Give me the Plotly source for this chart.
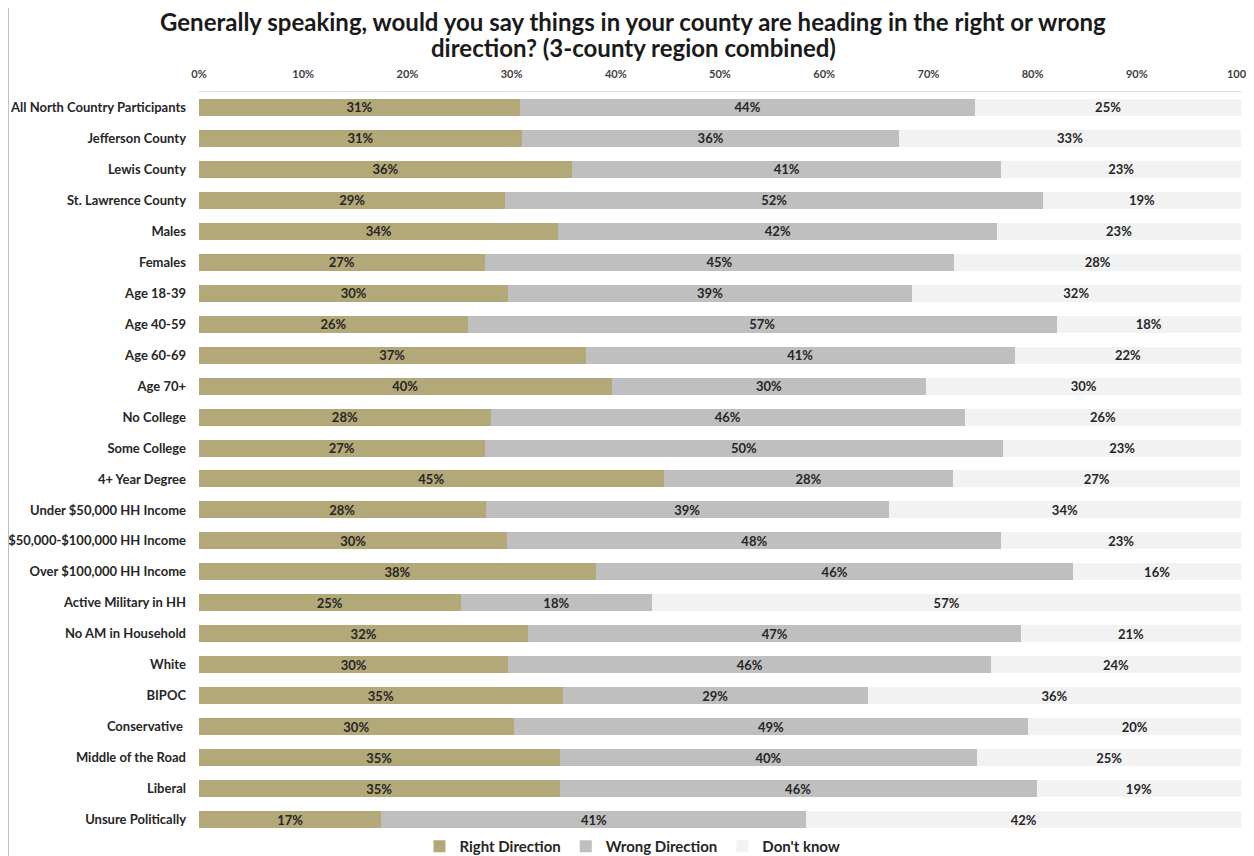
import plotly.graph_objects as go

categories = [
    "All North Country Participants", "Jefferson County", "Lewis County", "St. Lawrence County",
    "Males", "Females", "Age 18-39", "Age 40-59", "Age 60-69", "Age 70+",
    "No College", "Some College", "4+ Year Degree", "Under $50,000 HH Income",
    "$50,000-$100,000 HH Income", "Over $100,000 HH Income", "Active Military in HH",
    "No AM in Household", "White", "BIPOC", "Conservative ", "Middle of the Road",
    "Liberal", "Unsure Politically",
]

right_direction = [30.8, 31.0, 35.8, 29.4, 34.5, 27.4, 29.7, 25.8, 37.1, 39.6, 28.0, 27.4,
                   44.6, 27.5, 29.6, 38.1, 25.1, 31.6, 29.7, 34.9, 30.2, 34.6, 34.6, 17.5]
wrong_direction = [43.7, 36.2, 41.2, 51.6, 42.1, 45.1, 38.7, 56.5, 41.2, 30.2, 45.5, 49.8,
                   27.8, 38.7, 47.4, 45.8, 18.4, 47.3, 46.3, 29.3, 49.4, 40.1, 45.8, 40.8]
dont_know = [25.5, 32.8, 23.0, 19.0, 23.4, 27.5, 31.6, 17.7, 21.7, 30.2, 26.5, 22.8,
             27.5, 33.8, 23.0, 16.1, 56.5, 21.1, 24.0, 35.8, 20.4, 25.3, 19.6, 41.7]

right_labels = ["31%", "31%", "36%", "29%", "34%", "27%", "30%", "26%", "37%", "40%", "28%", "27%",
                "45%", "28%", "30%", "38%", "25%", "32%", "30%", "35%", "30%", "35%", "35%", "17%"]
wrong_labels = ["44%", "36%", "41%", "52%", "42%", "45%", "39%", "57%", "41%", "30%", "46%", "50%",
                "28%", "39%", "48%", "46%", "18%", "47%", "46%", "29%", "49%", "40%", "46%", "41%"]
dk_labels = ["25%", "33%", "23%", "19%", "23%", "28%", "32%", "18%", "22%", "30%", "26%", "23%",
             "27%", "34%", "23%", "16%", "57%", "21%", "24%", "36%", "20%", "25%", "19%", "42%"]

title_lines = [
    "Generally speaking, would you say things in your county are heading in the right or wrong",
    "direction? (3-county region combined)",
]

series = [
    ("Right Direction", right_direction, right_labels, "#B3A878"),
    ("Wrong Direction", wrong_direction, wrong_labels, "#BFBFBF"),
    ("Don't know", dont_know, dk_labels, "#F2F2F2"),
]

FONT = "Lato"
W, H = 1246, 900
L, R, T, B = 191, 13, 84, 73
PW = W - L - R
PH = H - T - B

fig = go.Figure()
for name, vals, labels, color in series:
    fig.add_trace(go.Bar(
        name=name, y=categories, x=vals, orientation="h",
        marker=dict(color=color, line=dict(width=0)),
        text=labels, textposition="inside", insidetextanchor="middle",
        textangle=0, constraintext="none",
        textfont=dict(family=FONT, size=13, color="#262626", weight="bold"),
        hoverinfo="skip",
    ))

fig.update_layout(
    barmode="stack",
    width=W, height=H,
    margin=dict(l=L, r=R, t=T, b=B),
    paper_bgcolor="white", plot_bgcolor="white",
    bargap=0.45,
    xaxis=dict(
        side="top", range=[0, 100], dtick=10, ticksuffix="%",
        showgrid=False, zeroline=False, showline=True, linecolor="#D9D9D9", linewidth=1,
        ticks="", ticklabelstandoff=9, ticklabeloverflow="allow", automargin=False,
        tickfont=dict(family=FONT, size=11, color="#404040", weight="bold"),
        fixedrange=True,
    ),
    yaxis=dict(
        autorange="reversed", showgrid=False, showline=False, ticks="",
        ticklabelstandoff=12, automargin=False,
        tickfont=dict(family=FONT, size=13, color="#262626", weight="bold"),
        fixedrange=True,
    ),
    legend=dict(
        orientation="h", x=0.416, xanchor="center", y=-0.0155, yanchor="middle",
        font=dict(family=FONT, size=15, color="#262626", weight="bold"),
        traceorder="normal", itemwidth=30,
    ),
    showlegend=True,
)

for i, (line, fy) in enumerate(zip(title_lines, [14, 40])):
    fig.add_annotation(
        text=line, xref="paper", yref="paper",
        x=(625 - L) / PW, y=1 + (T - fy) / PH,
        xanchor="center", yanchor="middle", showarrow=False,
        font=dict(family=FONT, size=24, color="#1a1a1a", weight="bold"),
    )

fig.add_shape(type="line", xref="paper", yref="paper",
              x0=(0.5 - L) / PW, x1=(0.5 - L) / PW, y0=1 + T / PH, y1=-(H - T - 20 - PH) / PH,
              line=dict(color="#BFBFBF", width=1))

fig.write_html("out.html")
